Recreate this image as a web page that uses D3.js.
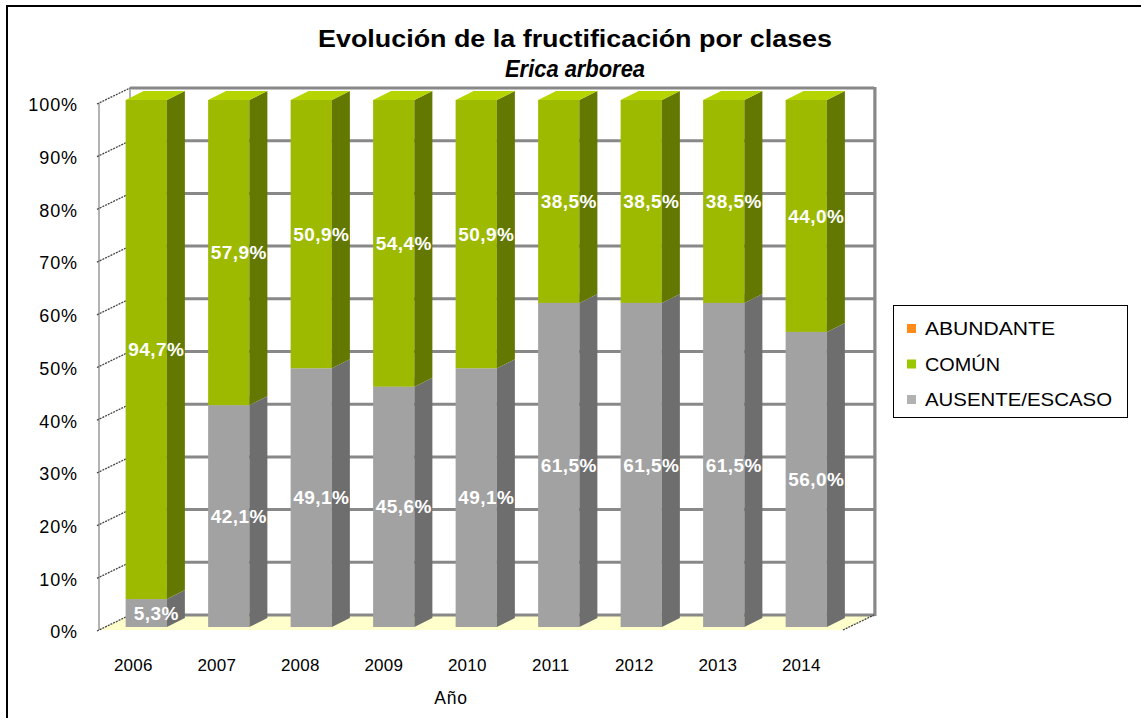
<!DOCTYPE html>
<html><head><meta charset="utf-8">
<script src="https://cdn.jsdelivr.net/npm/d3@7"></script>
<style>body{margin:0;background:#fff}svg{display:block}text{font-family:Arial,"Liberation Sans",sans-serif}</style>
</head><body><svg id="c" width="1141" height="718"></svg>
<script>
const years = ["2006","2007","2008","2009","2010","2011","2012","2013","2014"];
const ausente = [5.3, 42.1, 49.1, 45.6, 49.1, 61.5, 61.5, 61.5, 56.0];
const comun = [94.7, 57.9, 50.9, 54.4, 50.9, 38.5, 38.5, 38.5, 44.0];
const abundante = [0, 0, 0, 0, 0, 0, 0, 0, 0];
const yTicks = [0,10,20,30,40,50,60,70,80,90,100];
const seriesNames = ["ABUNDANTE","COMÚN","AUSENTE/ESCASO"];

const svg = d3.select("#c");
svg.append("rect").attr("x",7).attr("y",6).attr("width",1140).attr("height",720)
  .attr("fill","#fff").attr("stroke","#000").attr("stroke-width",2);

const y = d3.scaleLinear().domain([0,100]).range([630,103]);
const xLab = d3.scaleBand().domain(years).range([91.5, 843]);
const xBar = d3.scaleBand().domain(years).range([105, 847.5]).paddingInner(0.5).paddingOuter(0.25);
const DX = 31, DY = -15;   // wall depth
const by = -3;              // bar front offset in depth
const bdx = 18, bdy = -9;   // bar depth
const x0 = 99, x1 = 843;

// floor
svg.append("polygon").attr("points",[[x0,y(0)],[x1,y(0)],[x1+DX,y(0)+DY],[x0+DX,y(0)+DY]].join(" "))
  .attr("fill","#FFFFCC");
// back wall
svg.append("rect").attr("x",x0+DX).attr("y",y(100)+DY).attr("width",x1-x0).attr("height",y(0)-y(100))
  .attr("fill","#fff").attr("stroke","#999").attr("stroke-width",1);
svg.append("g").selectAll("line").data(yTicks).join("line")
  .attr("x1",x0+DX).attr("x2",x1+DX).attr("y1",d=>y(d)+DY).attr("y2",d=>y(d)+DY)
  .attr("stroke","#888").attr("stroke-width",3);
svg.append("line").attr("x1",x1+DX+1).attr("x2",x1+DX+1).attr("y1",y(100)+DY-1).attr("y2",y(0)+DY+1)
  .attr("stroke","#888").attr("stroke-width",3);
// left wall
svg.append("line").attr("x1",x0).attr("x2",x0).attr("y1",y(100)).attr("y2",y(0)).attr("stroke","#666").attr("stroke-width",1);
svg.append("line").attr("x1",x0+DX).attr("x2",x0+DX).attr("y1",y(100)+DY).attr("y2",y(0)+DY).attr("stroke","#999").attr("stroke-width",1);
svg.append("g").selectAll("line").data(yTicks).join("line")
  .attr("x1",x0-2).attr("y1",d=>y(d)+1).attr("x2",x0+DX).attr("y2",d=>y(d)+DY)
  .attr("stroke","#444").attr("stroke-width",1.3).attr("stroke-dasharray","2,1");
svg.append("line").attr("x1",x1).attr("y1",y(0)).attr("x2",x1+DX).attr("y2",y(0)+DY)
  .attr("stroke","#444").attr("stroke-width",1.3).attr("stroke-dasharray","2,1");

// bars
const colors = {
  aus:{front:"#A2A2A2", side:"#6E6E6E", top:"#BDBDBD"},
  com:{front:"#9DBA00", side:"#627800", top:"#B6D400"}
};
function drawSeg(g, left, w, v0, v1, c){
  const yb = y(v0)+by, yt = y(v1)+by;
  g.append("rect").attr("x",left).attr("y",yt).attr("width",w).attr("height",yb-yt).attr("fill",c.front);
  g.append("polygon").attr("points",[[left+w,yb],[left+w+bdx,yb+bdy],[left+w+bdx,yt+bdy],[left+w,yt]].join(" ")).attr("fill",c.side);
  g.append("polygon").attr("points",[[left,yt],[left+bdx,yt+bdy],[left+w+bdx,yt+bdy],[left+w,yt]].join(" ")).attr("fill",c.top);
}
const bars = svg.append("g");
years.forEach((yr,i)=>{
  const left = xBar(yr), w = xBar.bandwidth();
  drawSeg(bars,left,w,0,ausente[i],colors.aus);
  drawSeg(bars,left,w,ausente[i],ausente[i]+comun[i],colors.com);
});
// labels
const fmt = v => d3.format(".1f")(v).replace(".",",")+"%";
const lab = svg.append("g").attr("fill","#fff").attr("font-weight","bold").attr("font-size",19)
  .attr("letter-spacing",0.4).attr("text-anchor","middle");
years.forEach((yr,i)=>{
  const cx = xBar(yr)+xBar.bandwidth()/2+10;
  lab.append("text").attr("x",cx).attr("y",y(ausente[i]/2)+by).attr("dy","0.35em").text(fmt(ausente[i]));
  lab.append("text").attr("x",cx).attr("y",y(ausente[i]+comun[i]/2)+by).attr("dy","0.35em").text(fmt(comun[i]));
});

// y axis labels
svg.append("g").attr("font-size",18).attr("letter-spacing",0.9).attr("text-anchor","end").selectAll("text").data(yTicks).join("text")
  .attr("x",78).attr("y",d=>y(d)+2).attr("dy","0.35em").text(d=>d+"%");
// x labels
svg.append("g").attr("font-size",17).attr("letter-spacing",0.2).attr("text-anchor","middle").selectAll("text").data(years).join("text")
  .attr("x",d=>xLab(d)+xLab.bandwidth()/2).attr("y",665).attr("dy","0.35em").text(d=>d);
svg.append("text").attr("x",451).attr("y",698).attr("dy","0.35em").attr("text-anchor","middle").attr("font-size",17.5)
  .attr("letter-spacing",0.8).text("Año");

// title
svg.append("text").attr("x",575).attr("y",47).attr("text-anchor","middle").attr("font-size",23).attr("font-weight","bold")
  .attr("textLength",514).attr("lengthAdjust","spacingAndGlyphs").text("Evolución de la fructificación por clases");
svg.append("text").attr("x",575).attr("y",77).attr("text-anchor","middle").attr("font-size",23).attr("font-weight","bold").attr("font-style","italic")
  .attr("textLength",140).attr("lengthAdjust","spacingAndGlyphs").text("Erica arborea");

// legend
const lg = svg.append("g");
lg.append("rect").attr("x",893.5).attr("y",305.5).attr("width",234).attr("height",112).attr("fill","#fff").attr("stroke","#000").attr("stroke-width",1);
const legColors = ["#FF8C1A","#99C800","#B2B2B2"];
const legW = [130,75,187];
seriesNames.forEach((n,i)=>{
  const yy = 328 + i*35.5;
  lg.append("rect").attr("x",907).attr("y",yy-4).attr("width",9).attr("height",9).attr("fill",legColors[i]);
  lg.append("text").attr("x",925).attr("y",yy+1).attr("dy","0.35em").attr("font-size",18)
    .attr("textLength",legW[i]).attr("lengthAdjust","spacingAndGlyphs").text(n);
});
</script></body></html>
